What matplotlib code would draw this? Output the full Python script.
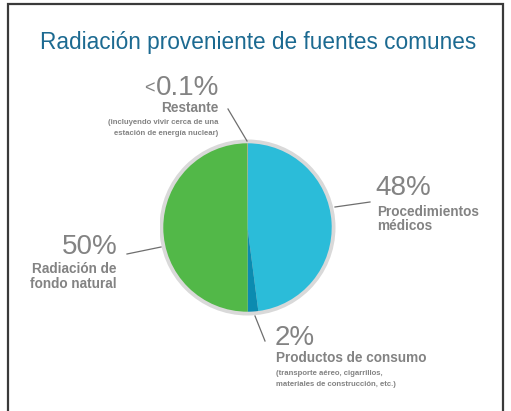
import matplotlib.pyplot as plt
from matplotlib.patches import Circle, Rectangle
from matplotlib.lines import Line2D

# slices, clockwise from 12 o'clock
labels = ['Procedimientos médicos', 'Productos de consumo', 'Radiación de fondo natural', 'Restante']
values = [48, 2, 50, 0.1]
colors = ['#2bbcd9', '#0b8bb0', '#52b848', '#c9a13a']

title = 'Radiación proveniente de fuentes comunes'
gray = '#838383'
plt.rcParams['font.family'] = ['Liberation Sans', 'DejaVu Sans']

W, H = 511, 411
fig = plt.figure(figsize=(W / 100, H / 100), dpi=100)


def fx(x):
    return x / W


def fy(y):
    return 1 - y / H


# frame
fig.add_artist(Rectangle((fx(8), fy(430)), fx(503) - fx(8), fy(4) - fy(430),
                         transform=fig.transFigure, fill=False,
                         edgecolor='#3a3a3a', linewidth=1.6))

fig.text(fx(258), fy(43), title, ha='center', va='center',
         fontsize=16.3, color='#1c6a91')

# pie
cx, cy, r = 247.5, 227.5, 88
ax = fig.add_axes([fx(cx - r), fy(cy + r), 2 * r / W, 2 * r / H])
ax.add_patch(Circle((0, 0), 1.045, facecolor='#d9d9d9', edgecolor='none', zorder=0))
ax.pie(values, colors=colors, startangle=90, counterclock=False, radius=1.0,
       wedgeprops=dict(linewidth=0))
ax.set_xlim(-1.045, 1.045)
ax.set_ylim(-1.045, 1.045)
ax.set_aspect('equal')
ax.axis('off')

# leader lines
for (x0, y0), (x1, y1) in [((228, 109), (247, 141)),
                           ((335, 207), (370, 202)),
                           ((255, 316), (265, 341)),
                           ((127, 254), (161, 247))]:
    fig.add_artist(Line2D([fx(x0), fx(x1)], [fy(y0), fy(y1)],
                          transform=fig.transFigure, color='#6e6e6e', linewidth=0.9))

big = 20
mid = 9.8
small = 5.6

# labels
fig.text(fx(155), fy(93), '<', ha='right', va='baseline', fontsize=13, color=gray)
fig.text(fx(156), fy(95), '0.1%', ha='left', va='baseline', fontsize=big, color=gray)
fig.text(fx(218), fy(112), 'Restante', ha='right', va='baseline', fontsize=mid,
         color=gray, fontweight='bold')
fig.text(fx(218), fy(124), '(incluyendo vivir cerca de una', ha='right', va='baseline',
         fontsize=small, color=gray, fontweight='bold')
fig.text(fx(218), fy(135), 'estación de energía nuclear)', ha='right', va='baseline',
         fontsize=small, color=gray, fontweight='bold')

fig.text(fx(375), fy(195), '48%', ha='left', va='baseline', fontsize=big, color=gray)
fig.text(fx(377), fy(216), 'Procedimientos', ha='left', va='baseline', fontsize=mid,
         color=gray, fontweight='bold')
fig.text(fx(377), fy(230), 'médicos', ha='left', va='baseline', fontsize=mid,
         color=gray, fontweight='bold')

fig.text(fx(118), fy(254), '50%', ha='right', va='baseline', fontsize=big, color=gray)
fig.text(fx(117), fy(273), 'Radiación de', ha='right', va='baseline', fontsize=mid,
         color=gray, fontweight='bold')
fig.text(fx(117), fy(288), 'fondo natural', ha='right', va='baseline', fontsize=mid,
         color=gray, fontweight='bold')

fig.text(fx(275), fy(345), '2%', ha='left', va='baseline', fontsize=big, color=gray)
fig.text(fx(276), fy(362), 'Productos de consumo', ha='left', va='baseline', fontsize=mid,
         color=gray, fontweight='bold')
fig.text(fx(276), fy(375), '(transporte aéreo, cigarrillos,', ha='left', va='baseline',
         fontsize=small, color=gray, fontweight='bold')
fig.text(fx(276), fy(386), 'materiales de construcción, etc.)', ha='left', va='baseline',
         fontsize=small, color=gray, fontweight='bold')

fig.savefig('out.png', dpi=100)
